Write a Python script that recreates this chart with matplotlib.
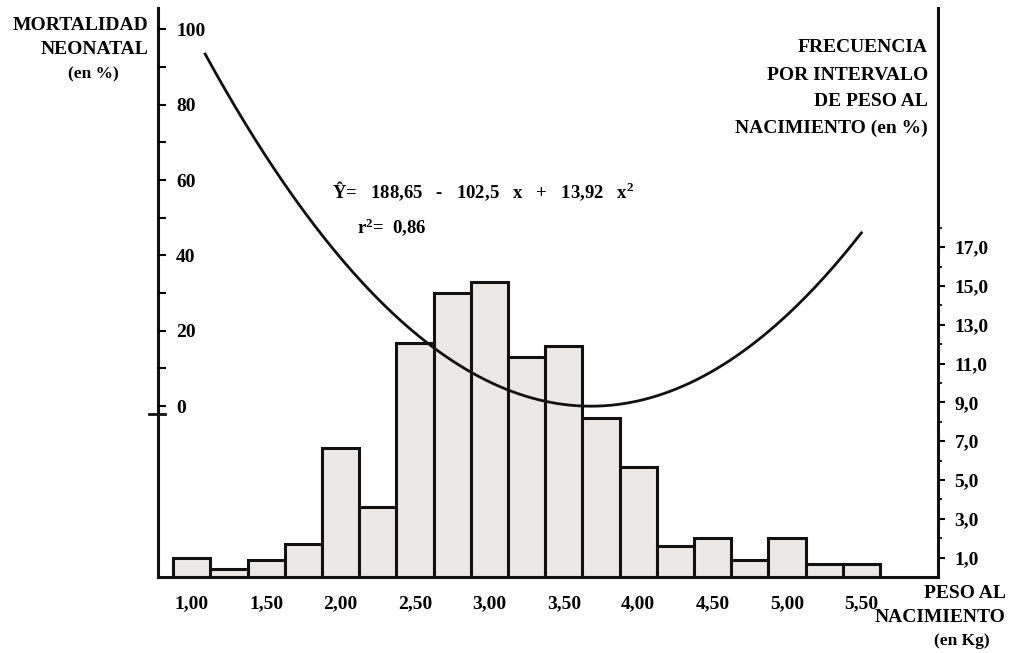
import numpy as np
import matplotlib
matplotlib.use('Agg')
import matplotlib.pyplot as plt
import matplotlib.transforms as mtransforms

plt.rcParams['font.family'] = ['Liberation Serif', 'DejaVu Serif']
plt.rcParams['font.weight'] = 'bold'
plt.rcParams['mathtext.fontset'] = 'custom'
plt.rcParams['mathtext.rm'] = 'Liberation Serif:bold'
plt.rcParams['mathtext.default'] = 'rm'

# histogram: birth weight classes (kg) and frequency per class (%)
peso_kg = [1.00, 1.25, 1.50, 1.75, 2.00, 2.25, 2.50, 2.75, 3.00, 3.25,
           3.50, 3.75, 4.00, 4.25, 4.50, 4.75, 5.00, 5.25, 5.50]
frecuencia = [1.0, 0.4, 0.9, 1.7, 6.65, 3.6, 12.05, 14.65, 15.2, 11.35,
              11.9, 8.2, 5.65, 1.6, 2.0, 0.9, 2.0, 0.65, 0.65]
ancho_clase = 0.25

# fitted mortality curve, coefficients as printed on the chart (x^2, x, 1)
coef = [13.92, -102.5, 188.65]
x_curva = np.linspace(1.09, 5.50, 200)

x_ticks = [1.0, 1.5, 2.0, 2.5, 3.0, 3.5, 4.0, 4.5, 5.0, 5.5]
x_labels = ['1,00', '1,50', '2,00', '2,50', '3,00', '3,50', '4,00', '4,50', '5,00', '5,50']
mort_ticks = [0, 20, 40, 60, 80, 100]
mort_labels = ['0', '20', '40', '60', '80', '100']
frec_ticks = [1, 3, 5, 7, 9, 11, 13, 15, 17]
frec_labels = ['1,0', '3,0', '5,0', '7,0', '9,0', '11,0', '13,0', '15,0', '17,0']

W, H = 1012, 653
fig = plt.figure(figsize=(W / 100, H / 100), dpi=100)
ax = fig.add_axes([158 / W, 1 - 577 / H, (938 - 158) / W, (577 - 8) / H])
axm = ax.twinx()

# bars on the frequency axis (right)
ax.bar(peso_kg, frecuencia, width=ancho_clase, color='#ebe8e8',
       edgecolor='#111111', linewidth=2.2, zorder=2)
ax.set_xlim(0.773, 6.015)
ax.set_ylim(0, 29.33)

ax.spines['top'].set_visible(False)
for s in ['left', 'right', 'bottom']:
    ax.spines[s].set_linewidth(2.2)
    ax.spines[s].set_color('#111111')

ax.yaxis.tick_right()
ax.set_yticks(frec_ticks)
ax.set_yticklabels(frec_labels)
ax.set_yticks(np.arange(2, 19, 2), minor=True)
ax.tick_params(axis='y', which='major', direction='out', length=5, width=1.5,
               pad=7, labelsize=14)
ax.tick_params(axis='y', which='minor', direction='out', length=3, width=1.2)

ax.set_xticks(x_ticks)
ax.set_xticklabels(x_labels)
ax.tick_params(axis='x', direction='in', length=4, width=1.5, pad=13,
               labelsize=14)

# mortality axis (left) with the fitted curve
for s in axm.spines.values():
    s.set_visible(False)
axm.set_ylim(-45.4, 105.7)
axm.yaxis.tick_left()
axm.set_yticks(mort_ticks)
axm.set_yticklabels(mort_labels)
axm.set_yticks([10, 30, 50, 70, 90], minor=True)
axm.tick_params(axis='y', which='major', direction='in', length=6, width=1.5,
                pad=-13, labelsize=14)
axm.tick_params(axis='y', which='minor', direction='in', length=6, width=1.5)
for lbl in axm.get_yticklabels():
    lbl.set_horizontalalignment('left')

axm.plot(x_curva, np.polyval(coef, x_curva), color='#111111', lw=2.0, zorder=3)

# axis break mark under the 0 of the mortality scale
trans = mtransforms.blended_transform_factory(axm.transAxes, axm.transData)
axm.plot([-0.011, 0.009], [-2.0, -2.0], color='#111111', lw=2.0,
         transform=trans, clip_on=False)

axm.text(1.94, 57, r'Ŷ=   188,65   -   102,5   x   +   13,92   x$^{2}$', fontsize=13.5,
         ha='left', va='center')
axm.text(2.11, 47.5, r'r$^{2}$=  0,86', fontsize=13.5, ha='left', va='center')

# axis titles
fig.text(148 / W, 1 - 25 / H, 'MORTALIDAD', ha='right', va='center', fontsize=14)
fig.text(148 / W, 1 - 49 / H, 'NEONATAL', ha='right', va='center', fontsize=14)
fig.text(93 / W, 1 - 74 / H, '(en %)', ha='center', va='center', fontsize=12.5)

fig.text(928 / W, 1 - 48 / H, 'FRECUENCIA', ha='right', va='center', fontsize=14)
fig.text(928 / W, 1 - 75 / H, 'POR INTERVALO', ha='right', va='center', fontsize=14)
fig.text(928 / W, 1 - 101 / H, 'DE PESO AL', ha='right', va='center', fontsize=14)
fig.text(928 / W, 1 - 128 / H, 'NACIMIENTO (en %)', ha='right', va='center', fontsize=14)

fig.text(1006 / W, 1 - 594 / H, 'PESO AL', ha='right', va='center', fontsize=14)
fig.text(1006 / W, 1 - 618 / H, 'NACIMIENTO', ha='right', va='center', fontsize=14)
fig.text(962 / W, 1 - 641 / H, '(en Kg)', ha='center', va='center', fontsize=12.5)

fig.savefig('out.png', dpi=100, facecolor='white')
